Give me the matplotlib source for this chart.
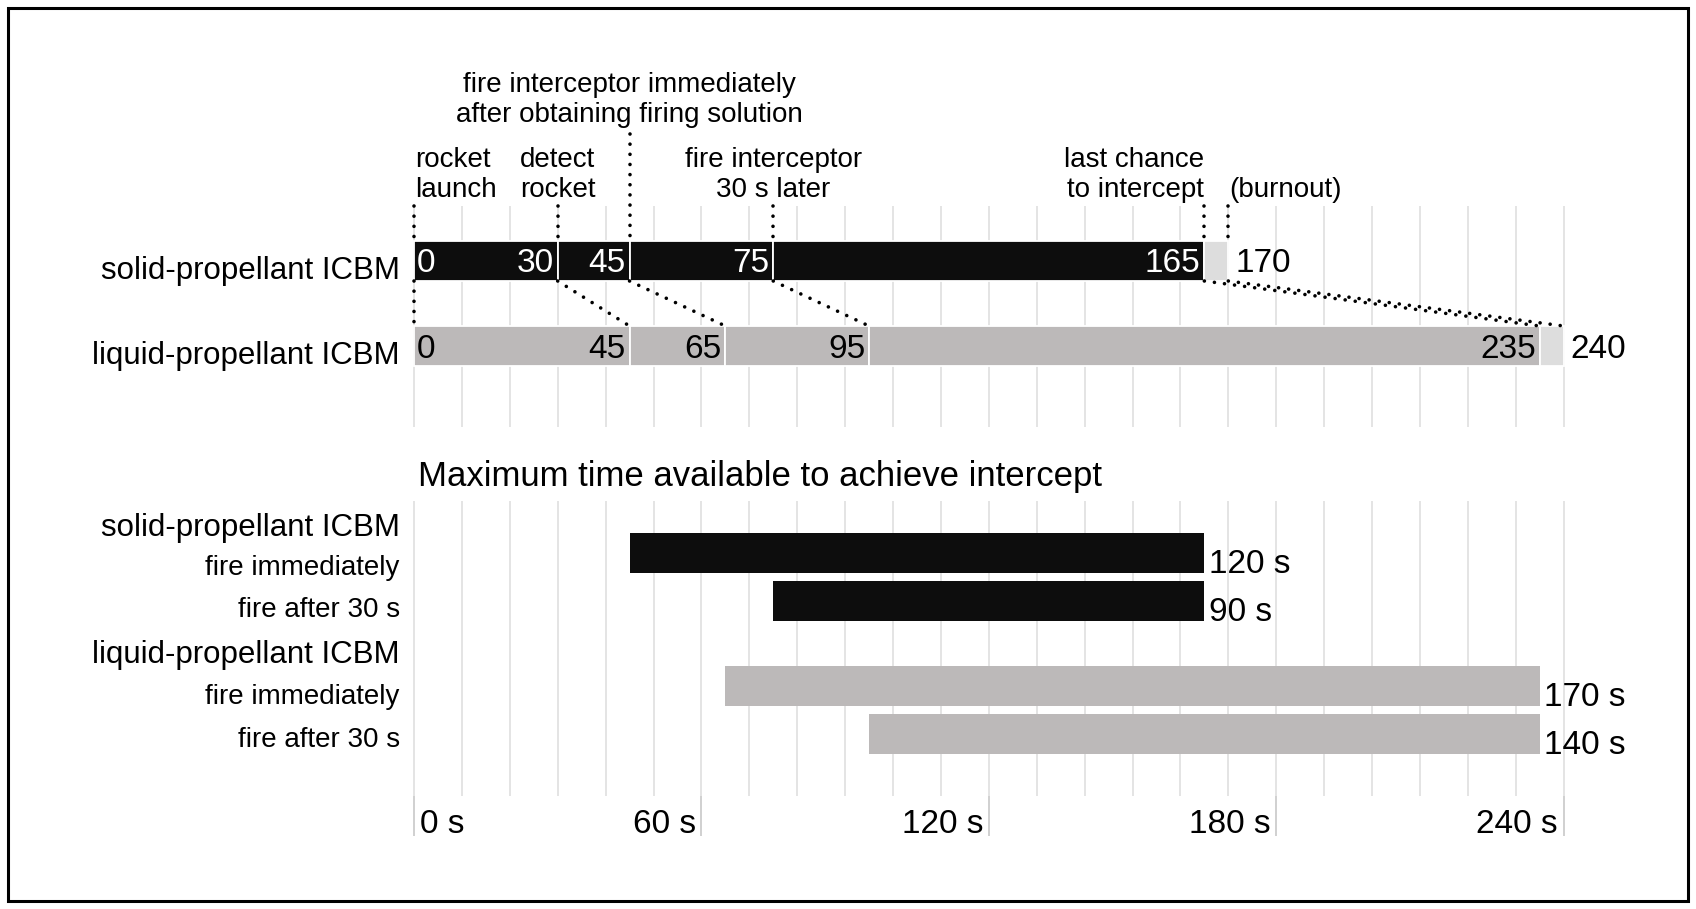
# -*- coding: utf-8 -*-
"""
Boost-phase intercept timeline for solid- and liquid-propellant ICBMs.
"""

import matplotlib.pyplot as plt
from matplotlib.patches import Rectangle
import numpy as np

plt.rcParams['font.family'] = ['Liberation Sans', 'DejaVu Sans']

#---  timeline data (seconds after launch)  ---
row_names = ['solid-propellant ICBM', 'liquid-propellant ICBM']
solid_marks = [0, 30, 45, 75, 165]
solid_burnout = 170
liquid_marks = [0, 45, 65, 95, 235]
liquid_burnout = 240

#---  intercept windows (lower panel)  ---
window_rows = ['solid-propellant ICBM', 'fire immediately', 'fire after 30 s',
               'liquid-propellant ICBM', 'fire immediately', 'fire after 30 s']
window_start = [45, 75, 65, 95]
window_end = [165, 165, 235, 235]

grid_ticks = np.arange(0, 241, 10)
axis_ticks = [0, 60, 120, 180, 240]
axis_labels = ['0 s', '60 s', '120 s', '180 s', '240 s']

#---  colours  ---
c_solid = '#0d0d0d'
c_liquid = '#bcb9b9'
c_burn = '#dddddd'
c_grid = '#dcdcdc'

#--------------------------------------------
#---  figure: one axes, x in seconds, y in pixels from top  ---
fig = plt.figure(figsize=(16.96, 9.09), dpi=100)
ax = fig.add_axes([0, 0, 1, 1])
ax.set_xlim(-414 / 4.79, (1696 - 414) / 4.79)
ax.set_ylim(909, 0)
ax.axis('off')

fig.patches.append(Rectangle((8 / 1696, 8 / 909), 1680 / 1696, 893 / 909,
                             transform=fig.transFigure, fill=False,
                             lw=2.2, ec='black'))

dots = dict(color='black', lw=2.6, linestyle=(0, (0.01, 2.8)),
            dash_capstyle='round', zorder=4)

#---  upper panel: grid  ---
ax.vlines(grid_ticks, 206, 427, color=c_grid, lw=1.1, zorder=0)

y_solid, y_liquid, h = 261, 346, 40

#---  upper panel: bars  ---
ax.barh(y_solid, np.diff(solid_marks), left=solid_marks[:-1], height=h,
        color=c_solid, edgecolor='white', lw=1.3, zorder=2)
ax.barh(y_solid, solid_burnout - solid_marks[-1], left=solid_marks[-1],
        height=h, color=c_burn, edgecolor='white', lw=1.3, zorder=2)
ax.barh(y_liquid, np.diff(liquid_marks), left=liquid_marks[:-1], height=h,
        color=c_liquid, edgecolor='white', lw=1.3, zorder=2)
ax.barh(y_liquid, liquid_burnout - liquid_marks[-1], left=liquid_marks[-1],
        height=h, color=c_burn, edgecolor='white', lw=1.3, zorder=2)

#---  numbers on bars  ---
for marks, burn, yc, tc in [(solid_marks, solid_burnout, y_solid, 'white'),
                            (liquid_marks, liquid_burnout, y_liquid, 'black')]:
    ax.text(marks[0] + 0.6, yc + 11.5, str(marks[0]), color=tc, fontsize=24,
            ha='left', va='baseline', zorder=5)
    for m in marks[1:]:
        ax.text(m - 0.8, yc + 11.5, str(m), color=tc, fontsize=24,
                ha='right', va='baseline', zorder=5)
    ax.text(burn + 1.5, yc + 11.5, str(burn), color='black', fontsize=24,
            ha='left', va='baseline', zorder=5)

#---  row labels (upper panel)  ---
ax.text(-3, y_solid + 18, row_names[0], fontsize=22.5, ha='right', va='baseline')
ax.text(-3, y_liquid + 18, row_names[1], fontsize=22.5, ha='right', va='baseline')

#---  event annotations  ---
events = [(['rocket', 'launch'], 0, 'left', 206),
          (['detect', 'rocket'], 30, 'center', 206),
          (['fire interceptor immediately', 'after obtaining firing solution'],
           45, 'center', 134),
          (['fire interceptor', '30 s later'], 75, 'center', 206),
          (['last chance', 'to intercept'], 165, 'right', 206),
          (['', '(burnout)'], 170, 'left', 206)]
for lines, t, ha, ytop in events:
    base = 122 if ytop < 150 else 197
    tx = t + 0.2 if ha == 'left' and t == 0 else t
    if t == 170:
        tx = t + 0.3
    ax.text(tx, base - 30, lines[0], fontsize=20, ha=ha, va='baseline')
    ax.text(tx, base, lines[1], fontsize=20, ha=ha, va='baseline')
    ax.plot([t, t], [ytop, y_solid - h / 2], **dots)

#---  connectors solid -> liquid  ---
for ts, tl in zip(solid_marks + [solid_burnout], liquid_marks + [liquid_burnout]):
    ax.plot([ts, tl], [y_solid + h / 2, y_liquid - h / 2], **dots)

#---  lower panel  ---
ax.text(0.9, 486, 'Maximum time available to achieve intercept', fontsize=25,
        ha='left', va='baseline')
ax.vlines(grid_ticks, 501, 796, color=c_grid, lw=1.1, zorder=0)
ax.vlines(axis_ticks, 796, 836, color='#c4c4c4', lw=1.1, zorder=0)

label_base = [536, 575, 617, 663, 704, 747]
label_size = [22.5, 20, 20, 22.5, 20, 20]
for name, yb, fs in zip(window_rows, label_base, label_size):
    ax.text(-3, yb, name, fontsize=fs, ha='right', va='baseline')

win_y = [553, 601, 686, 734]
win_c = [c_solid, c_solid, c_liquid, c_liquid]
widths = np.array(window_end) - np.array(window_start)
ax.barh(win_y, widths, left=window_start, height=h, color=win_c, zorder=2)
for yc, s, w in zip(win_y, window_start, widths):
    ax.text(s + w + 1.0, yc + h / 2, f'{w} s', fontsize=24, ha='left',
            va='baseline')

#---  axis labels  ---
for t, lab in zip(axis_ticks, axis_labels):
    if t == 0:
        ax.text(t + 1.3, 833, lab, fontsize=24, ha='left', va='baseline')
    else:
        ax.text(t - 1.2, 833, lab, fontsize=24, ha='right', va='baseline')

plt.savefig('out.png', dpi=100)
